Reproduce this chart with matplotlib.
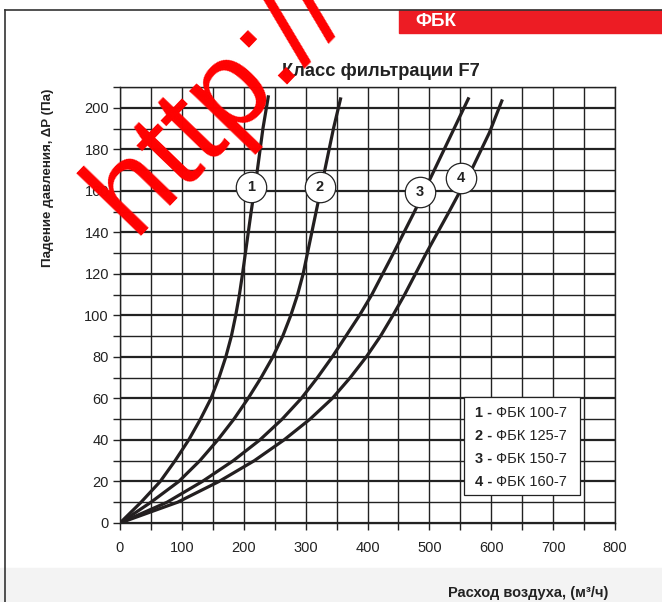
import matplotlib.pyplot as plt
from matplotlib.patches import Rectangle
from matplotlib.ticker import MultipleLocator

plt.rcParams['font.family'] = ['Liberation Sans', 'DejaVu Sans']

# расход воздуха (м3/ч) и падение давления (Па) для каждой кривой
x1 = [0, 34, 65, 89, 111, 130, 147, 160, 171, 180, 187, 193, 198, 212, 222, 231, 240]
y1 = [0, 10, 20, 30, 40, 50, 60, 70, 80, 90, 100, 110, 120, 150, 170, 190, 206]
x2 = [0, 50, 95, 129, 158, 184, 207, 228, 247, 263, 276, 287, 296, 317, 331, 345, 357]
y2 = [0, 10, 20, 30, 40, 50, 60, 70, 80, 90, 100, 110, 120, 150, 170, 190, 205]
x3 = [0, 76, 133, 183, 226, 262, 293, 319, 343, 365, 387, 407, 442, 476, 508, 540, 564]
y3 = [0, 10, 20, 30, 40, 50, 60, 70, 80, 90, 100, 110, 130, 150, 170, 190, 205]
x4 = [0, 93, 160, 217, 265, 307, 343, 372, 398, 421, 441, 460, 495, 532, 568, 597, 618]
y4 = [0, 10, 20, 30, 40, 50, 60, 70, 80, 90, 100, 110, 130, 150, 170, 188, 204]

curve_numbers = ['1', '2', '3', '4']
legend_names = ['ФБК 100-7', 'ФБК 125-7', 'ФБК 150-7', 'ФБК 160-7']
label_x = [212, 323, 485, 551]
label_y = [162, 162, 159.5, 166]

fig = plt.figure(figsize=(6.62, 6.02), dpi=100)

# рамка страницы, серая полоса внизу и красная плашка
fig.add_artist(Rectangle((0, 0), 1, 34 / 602, transform=fig.transFigure, color='#f3f3f3', zorder=0))
fig.add_artist(plt.Line2D([5 / 662, 1], [1 - 9.5 / 602] * 2, transform=fig.transFigure, color='#333333', lw=1.2))
fig.add_artist(plt.Line2D([5 / 662] * 2, [0, 1 - 9.5 / 602], transform=fig.transFigure, color='#333333', lw=1.2))
fig.add_artist(Rectangle((399 / 662, 1 - 33 / 602), 263 / 662, 23 / 602, transform=fig.transFigure,
                         color='#ed1c24', zorder=1))
fig.text(415 / 662, 1 - 21.5 / 602, 'ФБК', color='white', fontsize=13.5, fontweight='bold', va='center')

ax = fig.add_axes([120 / 662, 1 - 523 / 602, 495 / 662, 436 / 602])
ax.set_xlim(0, 800)
ax.set_ylim(0, 210)

ax.xaxis.set_major_locator(MultipleLocator(100))
ax.xaxis.set_minor_locator(MultipleLocator(50))
ax.yaxis.set_major_locator(MultipleLocator(20))
ax.yaxis.set_minor_locator(MultipleLocator(10))
ax.grid(which='major', axis='y', color='#222222', lw=1.6)
ax.grid(which='minor', axis='y', color='#222222', lw=1.0)
ax.grid(which='both', axis='x', color='#222222', lw=1.0)
ax.set_axisbelow(True)
ax.tick_params(which='both', direction='out', length=5, width=1.0, color='#222222', labelsize=10.5,
               labelcolor='#222222')
ax.tick_params(axis='x', pad=8)
ax.tick_params(axis='y', pad=3)
for s in ax.spines.values():
    s.set_color('#222222')
    s.set_linewidth(1.0)

for xs, ys in [(x1, y1), (x2, y2), (x3, y3), (x4, y4)]:
    ax.plot(xs, ys, color='#231f20', lw=2.3, solid_capstyle='butt', solid_joinstyle='round', zorder=3)

# номера кривых в кружках
ax.scatter(label_x, label_y, s=480, facecolor='white', edgecolor='#222222', linewidth=0.9, zorder=4)
for n, lx, ly in zip(curve_numbers, label_x, label_y):
    ax.text(lx, ly, n, ha='center', va='center', fontsize=10.5, fontweight='bold', color='#222222', zorder=5)

# легенда
ax.add_patch(Rectangle((556, 13.5), 188, 47.4, facecolor='white', edgecolor='#222222', lw=0.9, zorder=4))
for i, (n, name) in enumerate(zip(curve_numbers, legend_names)):
    yy = 53.2 - i * 11.1
    ax.text(573, yy, n + ' -', fontsize=10.5, fontweight='bold', va='center', color='#222222', zorder=5)
    ax.text(607, yy, name, fontsize=10.5, va='center', color='#222222', zorder=5)

fig.text(381 / 662, 1 - 72 / 602, 'Класс фильтрации F7', ha='center', va='center', fontsize=13.2,
         fontweight='bold', color='#222222')
fig.text(48.5 / 662, 1 - 177.5 / 602, 'Падение давления, ΔP (Па)', rotation=90, ha='center', va='center',
         fontsize=9.6, fontweight='bold', color='#222222')
fig.text(448 / 662, 1 - 593 / 602, 'Расход воздуха, (м³/ч)', ha='left', va='center', fontsize=10.5,
         fontweight='bold', color='#222222')

# водяной знак
fig.text(133 / 662, 1 - 236 / 602, 'http://', color='red', fontsize=90, rotation=46,
         rotation_mode='anchor', ha='left', va='baseline', zorder=10)

plt.savefig('out.png', dpi=100)
